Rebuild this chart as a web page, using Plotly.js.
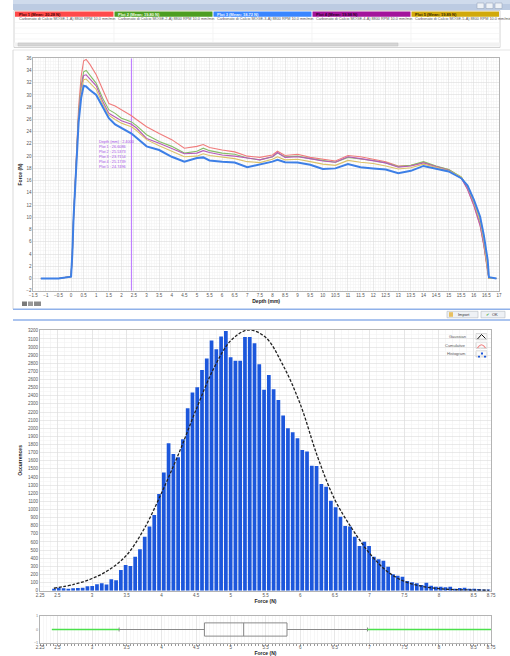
<!DOCTYPE html>
<html><head><meta charset="utf-8">
<script src="https://cdn.plot.ly/plotly-3.0.1.min.js"></script>
<style>html,body{margin:0;padding:0;background:#fff;overflow:hidden}#chart{width:510px;height:656px}</style>
</head><body><div id="chart"></div>
<script>
// ---------- DATA ----------
const plotNames = ["Plot 1 (Mean: 20.28 N)", "Plot 2 (Mean: 19.80 N)", "Plot 3 (Mean: 18.72 N)", "Plot 4 (Mean: 19.98 N)", "Plot 5 (Mean: 19.89 N)"];
const sampleLabels = ["Carbonato di Calcio MOGE-1-A) 8800 RPM 10.0 mm/min", "Carbonato di Calcio MOGE-2-A) 8800 RPM 10.0 mm/min", "Carbonato di Calcio MOGE-3-A) 8800 RPM 10.0 mm/min", "Carbonato di Calcio MOGE-4-A) 8800 RPM 10.0 mm/min", "Carbonato di Calcio MOGE-5-A) 8800 RPM 10.0 mm/min"];
const depth = [-1.2,-0.5,0,0.05,0.1,0.2,0.3,0.4,0.5,0.6,0.75,1,1.25,1.5,1.75,2,2.2,2.4,2.6,3,3.5,4,4.5,5,5.25,5.5,6,6.5,7,7.5,8,8.2,8.5,9,9.5,10,10.5,11,11.5,12,12.5,13,13.5,14,14.5,15,15.5,15.75,16,16.25,16.4,16.55,16.6,16.9];
const force1 = [0,0,0.3,4,10,20,28,33,35.6,35.8,35,33.3,31,28.6,28.2,27.6,27.2,26.6,26.0,24.8,23.7,22.7,21.3,21.6,21.9,21.4,21.0,20.7,20.0,19.8,20.2,20.8,20.1,20.3,19.8,19.5,19.2,20.1,19.9,19.5,19.1,18.4,18.5,19.0,18.3,17.8,16.5,14.6,11.9,8.6,5.3,1.0,0,0];
const force2 = [0,0,0.3,4,10,19.5,27,31.5,33.8,34.0,33.2,31.9,29.5,27.6,27.0,26.2,25.9,25.6,25.0,23.5,22.4,21.6,20.5,20.8,21.3,20.9,20.5,20.3,19.7,19.4,19.9,20.5,19.9,20.0,19.6,19.3,19.0,19.8,19.6,19.3,18.9,18.3,18.5,19.1,18.4,17.8,16.6,14.9,12.3,9.0,5.6,1.2,0,0];
const force3 = [0,0,0.3,4,10,19,25.5,29.5,31.5,31.4,30.8,30.0,28.0,26.2,25.2,24.6,24.2,23.7,23.0,21.6,21.0,19.9,19.1,19.7,19.8,19.3,19.1,18.95,18.2,18.6,19.1,19.4,19.0,18.95,18.6,17.9,18.0,18.7,18.2,18.0,17.8,17.2,17.6,18.4,17.9,17.5,16.4,15.2,12.9,10.1,7.0,3.0,0.2,0];
const force4 = [0,0,0.3,4,10,19.5,26.5,31,33.2,33.3,32.6,31.5,29.0,27.0,26.4,25.8,25.5,25.2,24.6,22.9,22.1,21.3,20.4,20.5,20.9,20.6,20.2,20.0,19.7,19.4,19.9,20.6,19.8,19.9,19.6,19.2,19.0,19.9,19.6,19.3,18.9,18.2,18.4,18.9,18.3,17.7,16.4,14.6,12.0,8.7,5.4,1.0,0,0];
const force5 = [0,0,0.3,4,10,19,26,30.5,32.5,32.6,32.0,30.9,28.6,26.7,26.0,25.4,25.1,24.8,24.2,22.7,21.7,20.8,19.9,20.0,20.4,20.1,19.8,19.6,19.1,18.95,19.5,19.9,19.4,19.5,19.1,18.7,18.5,19.3,19.0,18.8,18.4,17.9,18.1,18.7,18.2,17.6,16.6,15.0,12.5,9.4,6.0,1.5,0,0];
const cursorDepth = 2.4;
const cursorValues = ["26.6086", "25.5373", "23.7154", "25.1739", "24.7496"];
const forceRange = [-2, 36];

const histStart = 2.452;
const histBinWidth = 0.0688;
const histCounts = [25,37,30,25,30,33,37,54,58,78,
  91,76,140,130,255,316,304,419,510,665,
  789,933,1191,1454,1816,1684,1643,1865,2247,2440,
  2505,2719,2858,3080,2974,3129,3199,2875,2830,2830,
  3123,3123,3048,2789,2473,2657,2481,2349,2156,2001,
  1952,1877,1733,1713,1540,1536,1315,1281,1109,1027,
  912,797,789,665,550,604,550,419,386,370,
  296,202,185,172,119,103,91,70,99,62,
  49,49,41,49,25,33,37,25,25,21,
  16,16];
const gaussX = [2.45,2.75,3.0,3.25,3.5,3.75,4.0,4.25,4.5,4.75,5.0,5.25,5.5,5.75,6.0,6.25,6.5,6.75,7.0,7.25,7.5,7.75,8.0,8.25,8.5,8.72];
const gaussY = [30,80,150,260,440,760,1200,1690,2230,2730,3080,3210,3120,2780,2300,1650,1120,760,460,240,115,55,25,12,8,5];

const boxQ1 = 4.62, boxMedian = 5.185, boxQ3 = 5.81, boxLowFence = 3.39, boxHighFence = 6.97;
const outlierLow = [2.42, 3.39];
const outlierHigh = [6.97, 8.75];
const forceTicks = [2.25,2.5,3,3.5,4,4.5,5,5.5,6,6.5,7,7.5,8,8.5,8.75];
const legendNames = ["Gaussian", "Cumulative", "Histogram"];

// ---------- STYLE / LAYOUT HELPERS ----------
const W = 510, H = 656;
const px = x => x / W;
const py = y => 1 - y / H;
const FONT = "Liberation Sans, Arial, sans-serif";
const lineColors = ["#f07c7c", "#86bd67", "#3d7fe6", "#b65ab8", "#dcc169"];
const headerColors = ["#ff4a4a", "#4d9d21", "#3a86ff", "#a3149b", "#d1a90a"];
const headerText = ["#4a0000", "#f0ffe8", "#eaf3ff", "#2a0028", "#3a2a00"];
const headerCols = [[15,113.5],[114.5,212.5],[213.5,311.5],[312.5,410.5],[411.5,499]];

const forces = [force1, force2, force3, force4, force5];
const traces = [];
traces.push({type: "scatter", mode: "lines", x: [cursorDepth, cursorDepth], y: forceRange, xaxis: "x", yaxis: "y",
  showlegend: false, line: {color: "#bf80ff", width: 1.2}});
const order = [0, 1, 3, 4, 2];
order.forEach(i => {
  traces.push({type: "scatter", mode: "lines", x: depth, y: forces[i], xaxis: "x", yaxis: "y",
    name: plotNames[i], showlegend: false,
    line: {color: lineColors[i], width: i === 2 ? 2 : 1.1}});
});
traces.push({type: "bar", x0: histStart, dx: histBinWidth, y: histCounts, xaxis: "x2", yaxis: "y2",
  name: legendNames[2], showlegend: false, marker: {color: "#1c57dc", line: {width: 0}}});
traces.push({type: "scatter", mode: "lines", x: gaussX, y: gaussY, xaxis: "x2", yaxis: "y2",
  name: legendNames[0], showlegend: false, line: {color: "#222", width: 1.3, dash: "3px,1.6px", shape: "spline"}});
traces.push({type: "scatter", mode: "lines", x: outlierLow, y: [0, 0], xaxis: "x3", yaxis: "y3",
  showlegend: false, line: {color: "#4be04b", width: 1.6}});
traces.push({type: "scatter", mode: "lines", x: outlierHigh, y: [0, 0], xaxis: "x3", yaxis: "y3",
  showlegend: false, line: {color: "#4be04b", width: 1.6}});
traces.push({type: "box", orientation: "h", y: [0], q1: [boxQ1], median: [boxMedian], q3: [boxQ3],
  lowerfence: [boxLowFence], upperfence: [boxHighFence], xaxis: "x3", yaxis: "y3", width: 0.98,
  whiskerwidth: 0.3, showlegend: false, fillcolor: "rgba(0,0,0,0)", line: {color: "#8a8a8a", width: 1}});

const tickFont = {family: FONT, size: 4.5, color: "#555"};
const baseAxis = {showline: true, linecolor: "#b4b4b4", linewidth: 1, mirror: true, zeroline: false,
  showgrid: true, gridcolor: "#dcdcdc", gridwidth: 0.6, tickfont: tickFont, ticks: "", automargin: false, fixedrange: true};

const shapes = [];
const annotations = [];
function rect(x0, y0, x1, y1, fill, line, lw) {
  shapes.push({type: "rect", xref: "paper", yref: "paper", x0: px(x0), x1: px(x1), y0: py(y1), y1: py(y0),
    fillcolor: fill, line: {color: line || "rgba(0,0,0,0)", width: lw === undefined ? (line ? 0.8 : 0) : lw}, layer: "below"});
}
function hline(x0, x1, y, color, w) {
  shapes.push({type: "line", xref: "paper", yref: "paper", x0: px(x0), x1: px(x1), y0: py(y), y1: py(y), line: {color: color, width: w}});
}
function vline(x, y0, y1, color, w) {
  shapes.push({type: "line", xref: "paper", yref: "paper", x0: px(x), x1: px(x), y0: py(y0), y1: py(y1), line: {color: color, width: w}});
}
function text(x, y, t, size, color, anchor, bold) {
  annotations.push({xref: "paper", yref: "paper", x: px(x), y: py(y), text: bold ? "<b>" + t + "</b>" : t,
    showarrow: false, xanchor: anchor || "left", yanchor: "middle", font: {family: FONT, size: size, color: color}});
}

// window chrome
rect(13, 0, 510, 10, "#bccbe2");
rect(13, 0, 510, 4, "#cfdbec");
[[477,484],[486,493],[495,502]].forEach(b => rect(b[0], 3, b[1], 8.5, "#eef2f7", "#9aaac0", 0.6));
// header table
rect(14, 10.5, 500, 47.5, "#ffffff", "#c9c9c9", 0.8);
headerCols.forEach((c, i) => {
  rect(c[0], 11.5, c[1], 16.8, headerColors[i]);
  text(c[0] + 1.5, 14.2, plotNames[i], 4, headerText[i], "left", true);
  text(c[0] + 1.5, 19.4, sampleLabels[i], 3.8, "#555", "left");
  vline(c[1] + 0.5, 17, 42, "#ececec", 0.6);
});
[22.5, 28, 33.5, 39].forEach(y => hline(15, 499, y, "#f1f1f1", 0.6));
rect(14, 42.5, 500, 46.5, "#f2f2f2");
rect(18, 43, 398, 46, "#d6d6d6", "#bdbdbd", 0.5);
// panels
hline(13, 510, 50, "#dedede", 0.8);
vline(13, 50, 309, "#cfcfcf", 0.8);
hline(13, 510, 309.3, "#8fb1ea", 1.5);
hline(13, 510, 320, "#8fb1ea", 1.5);
rect(447, 311.3, 478, 317.8, "#eef1f5", "#b3b8c0", 0.6);
rect(449, 312.2, 453, 316.8, "#e8c060");
text(456, 314.6, "Import", 4, "#333", "left");
rect(481, 311.3, 505, 317.8, "#eef1f5", "#b3b8c0", 0.6);
text(484, 314.6, "✔", 4.2, "#3aa63a", "left");
text(490, 314.6, "OK", 4, "#333", "left");
rect(22, 301.5, 27, 306, "#7a7a7a");
rect(28, 301.5, 33, 306, "#9a9a9a");
rect(34, 301.5, 41, 306, "#8a8a8a");
// histogram legend
legendNames.forEach((n, i) => {
  const y = 336.7 + i * 8.6;
  text(468, y, n, 4, "#555", "right");
  rect(476, y - 3, 487, y + 3, "#fbfbfb", "#a9a9a9", 0.5);
});
shapes.push({type: "path", xref: "paper", yref: "paper", path:
  `M ${px(477.5)} ${py(339)} L ${px(481.5)} ${py(334.5)} L ${px(485.5)} ${py(338.5)}`, line: {color: "#111", width: 1}});
shapes.push({type: "path", xref: "paper", yref: "paper", path:
  `M ${px(477.5)} ${py(348)} Q ${px(481.5)} ${py(341.5)} ${px(485.5)} ${py(348)}`, line: {color: "#f08080", width: 1.2}});
[[478,355.5],[481,352.5],[484,355.5]].forEach(p => rect(p[0], p[1], p[0] + 2, p[1] + 2, "#1c57dc"));

// cursor readout
const readout = ["Depth (mm) : " + cursorDepth.toFixed(4)].concat(cursorValues.map((v, i) => "Plot " + (i + 1) + " : " + v)).join("<br>");
annotations.push({xref: "x", yref: "y", x: 1.05, y: 22.9, text: readout, showarrow: false, align: "left",
  xanchor: "left", yanchor: "top", font: {family: FONT, size: 3.8, color: "#a54ee6"}});

const layout = {
  width: W, height: H, margin: {l: 0, r: 0, t: 0, b: 0}, paper_bgcolor: "#fff", plot_bgcolor: "#fff",
  showlegend: false, bargap: 0.22, font: {family: FONT},
  xaxis: Object.assign({}, baseAxis, {domain: [px(33.3), px(499)], range: [-1.5, 17], tick0: -1.5, dtick: 0.5, anchor: "y",
    minor: {showgrid: true, gridcolor: "#f2f2f2", dtick: 0.1, gridwidth: 0.5},
    title: {text: "<b>Depth (mm)</b>", font: {family: FONT, size: 5, color: "#222"}, standoff: 2}}),
  yaxis: Object.assign({}, baseAxis, {domain: [py(290.7), py(58.3)], range: forceRange, dtick: 2, anchor: "x",
    minor: {showgrid: true, gridcolor: "#f2f2f2", dtick: 0.5, gridwidth: 0.5},
    title: {text: "<b>Force (N)</b>", font: {family: FONT, size: 5, color: "#222"}, standoff: 3}}),
  xaxis2: Object.assign({}, baseAxis, {domain: [px(40), px(491)], range: [2.25, 8.75], tickmode: "array", tickvals: forceTicks,
    ticktext: forceTicks.map(String), anchor: "y2",
    minor: {showgrid: true, gridcolor: "#eeeeee", dtick: 0.1, gridwidth: 0.5},
    title: {text: "<b>Force (N)</b>", font: {family: FONT, size: 5, color: "#222"}, standoff: 1}}),
  yaxis2: Object.assign({}, baseAxis, {domain: [py(590.7), py(330)], range: [0, 3210], dtick: 100, anchor: "x2",
    minor: {showgrid: true, gridcolor: "#f2f2f2", dtick: 50, gridwidth: 0.5},
    title: {text: "<b>Occurrences</b>", font: {family: FONT, size: 5, color: "#222"}, standoff: 5}}),
  xaxis3: Object.assign({}, baseAxis, {domain: [px(40), px(491)], range: [2.25, 8.75], tickmode: "array", tickvals: forceTicks,
    ticktext: forceTicks.map(String), anchor: "y3",
    minor: {showgrid: true, gridcolor: "#efefef", dtick: 0.05, gridwidth: 0.5, ticks: "outside", ticklen: 1.5, tickcolor: "#999"},
    title: {text: "<b>Force (N)</b>", font: {family: FONT, size: 5, color: "#222"}, standoff: 1}}),
  yaxis3: Object.assign({}, baseAxis, {domain: [py(643), py(616)], range: [-1, 1], tickvals: [-1, 0, 1], anchor: "x3",
    showgrid: false, tickfont: {family: FONT, size: 3.8, color: "#888"}}),
  shapes: shapes, annotations: annotations
};

Plotly.newPlot("chart", traces, layout, {staticPlot: true, displayModeBar: false});
</script>
</body></html>
